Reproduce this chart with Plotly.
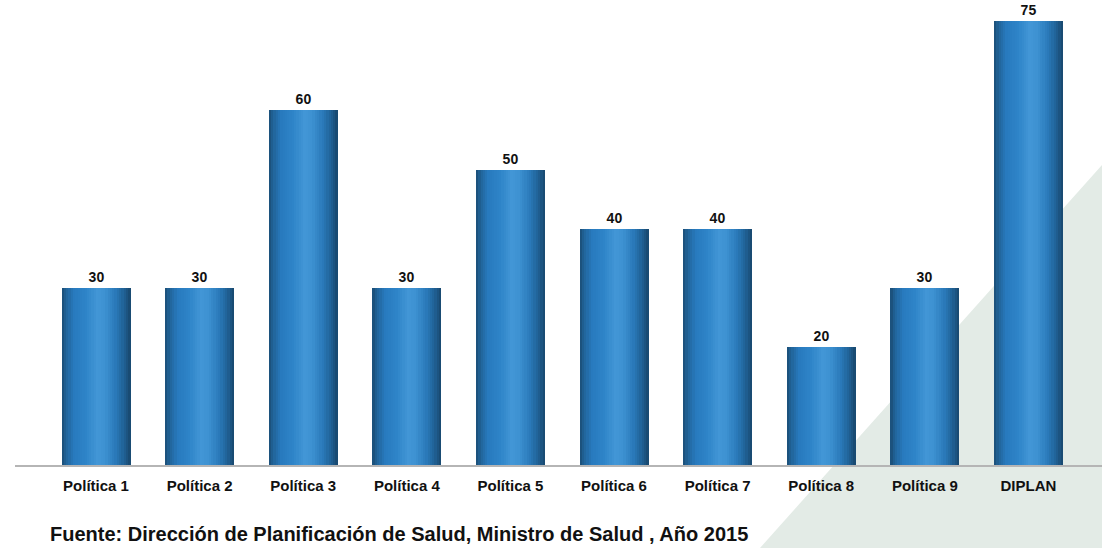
import plotly.graph_objects as go

# Data
categories = ["Política 1", "Política 2", "Política 3", "Política 4", "Política 5",
              "Política 6", "Política 7", "Política 8", "Política 9", "DIPLAN"]
values = [30, 30, 60, 30, 50, 40, 40, 20, 30, 75]
source_note = "Fuente: Dirección de Planificación de Salud, Ministro de Salud , Año 2015"

FONT = "Arial, 'Liberation Sans', sans-serif"
W, H = 1102, 548
BAR_W = 0.666

# Cylinder-like shading across the bar width (position, rgb)
profile = [
    (0.00, (26, 76, 116)),
    (0.06, (32, 98, 150)),
    (0.18, (40, 122, 190)),
    (0.35, (46, 132, 200)),
    (0.52, (66, 150, 214)),
    (0.62, (62, 146, 210)),
    (0.78, (42, 122, 186)),
    (0.90, (32, 98, 150)),
    (1.00, (24, 70, 108)),
]


def shade(t):
    for (t0, c0), (t1, c1) in zip(profile[:-1], profile[1:]):
        if t0 <= t <= t1:
            f = (t - t0) / (t1 - t0) if t1 > t0 else 0
            c = [round(a + (b - a) * f) for a, b in zip(c0, c1)]
            return f"rgb({c[0]},{c[1]},{c[2]})"
    return "rgb(24,70,108)"


fig = go.Figure()

# Each bar is built from thin vertical strips to give a rounded, shaded look
n_strips = 30
sw = BAR_W / n_strips
for k in range(n_strips):
    t = (k + 0.5) / n_strips
    extra = sw * 0.6 if k < n_strips - 1 else 0
    fig.add_trace(go.Bar(
        x=categories, y=values,
        width=sw + extra, offset=-BAR_W / 2 + k * sw,
        marker=dict(color=shade(t), line=dict(width=0)),
        hoverinfo="skip", showlegend=False,
    ))

# Value labels
fig.add_trace(go.Bar(
    x=categories, y=values, width=BAR_W,
    marker=dict(color="rgba(0,0,0,0)", line=dict(width=0)),
    text=[f"<b>{v}</b>" for v in values], textposition="outside",
    textfont=dict(family=FONT, size=14, color="#111111"),
    cliponaxis=False, showlegend=False,
))

plot_h = 466
px_per_cat = 103.6
x0 = -96 / px_per_cat
x1 = x0 + W / px_per_cat

fig.update_layout(
    width=W, height=H,
    margin=dict(l=0, r=0, t=0, b=H - plot_h),
    paper_bgcolor="white", plot_bgcolor="rgba(0,0,0,0)",
    barmode="overlay", bargap=0,
    xaxis=dict(range=[x0, x1], showgrid=False, zeroline=False, showline=False,
               ticks="", tickfont=dict(family=FONT, size=15, color="#111111"),
               ticklabelstandoff=9, tickprefix="<b>", ticksuffix="</b>"),
    yaxis=dict(range=[0, plot_h / 5.93], visible=False, showgrid=False),
    shapes=[
        dict(type="path", xref="paper", yref="paper",
             path=f"M {760 / W} {-(H - plot_h) / plot_h} L 1 {(plot_h - 165) / plot_h} "
                  f"L 1 {-(H - plot_h) / plot_h} Z",
             fillcolor="#e3ebe6", line=dict(width=0), layer="below"),
        dict(type="line", xref="paper", yref="paper",
             x0=15 / W, x1=1, y0=0, y1=0,
             line=dict(color="#b5b5b5", width=2), layer="above"),
    ],
    annotations=[
        dict(text=f"<b>{source_note}</b>", xref="paper", yref="paper",
             x=48 / W, y=-(534 - plot_h) / plot_h, xanchor="left", yanchor="middle",
             showarrow=False, font=dict(family=FONT, size=20, color="#111111")),
    ],
    font=dict(family=FONT),
)

fig.write_html("out.html")
